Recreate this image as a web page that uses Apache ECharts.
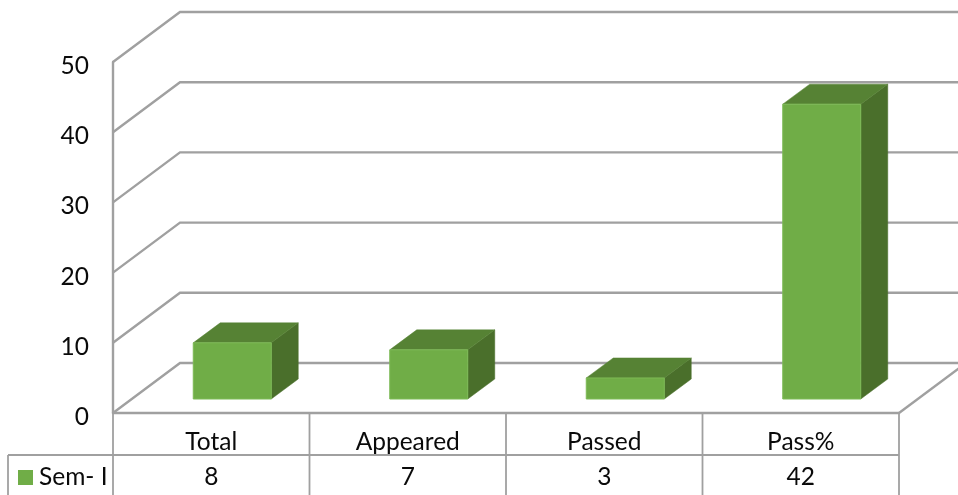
<!DOCTYPE html>
<html>
<head>
<meta charset="utf-8">
<style>html,body{margin:0;padding:0;background:#fff}#c{width:958px;height:495px}</style>
<script src="https://cdn.jsdelivr.net/npm/echarts@6/dist/echarts.min.js"></script>
</head>
<body>
<div id="c"></div>
<script>
const categories = ['Total', 'Appeared', 'Passed', 'Pass%'];
const semI = [8, 7, 3, 42];
const seriesName = 'Sem- I';
const yTicks = [0, 10, 20, 30, 40, 50];

const FONT = 'Lato';
const FS = 24.5;
const TXT = '#0a0a0a';
const GRID_COL = '#a0a0a0';
const WALL_DX = 67, WALL_DY = 50;
const BAR_W = 78, BAR_DX = 27, BAR_DY = 20, BAR_SHIFT_X = -21, BAR_LIFT = 14;
const TABLE_ROW = 42, TABLE_LEFT = 8, TABLE_BOTTOM = 495;

const chart = echarts.init(document.getElementById('c'), null, {renderer: 'canvas'});
chart.setOption({
  animation: false,
  backgroundColor: '#fff',
  textStyle: {fontFamily: FONT},
  grid: {left: 113, right: 59, top: 62, bottom: 82, containLabel: false},
  legend: {
    data: [seriesName], left: 18, top: 465, padding: 0, itemWidth: 15, itemHeight: 15, itemGap: 7,
    icon: 'rect', selectedMode: false,
    textStyle: {fontFamily: FONT, fontSize: FS, color: TXT, padding: [0, 0, 0, 1]}
  },
  xAxis: {
    type: 'category', data: categories, boundaryGap: true,
    axisLine: {show: true, lineStyle: {color: GRID_COL, width: 2.4}},
    axisTick: {show: false}, splitLine: {show: false},
    axisLabel: {fontFamily: FONT, fontSize: FS, color: TXT, margin: 17}
  },
  yAxis: {
    type: 'value', min: 0, max: 50, interval: 10,
    axisLine: {show: true, lineStyle: {color: GRID_COL, width: 2.4}},
    axisTick: {show: false}, splitLine: {show: false},
    axisLabel: {fontFamily: FONT, fontSize: FS, color: TXT, margin: 24, verticalAlign: 'top', lineHeight: 8}
  },
  series: [
    {
      name: 'walls', type: 'custom', z: 1, silent: true, clip: false,
      data: yTicks.map(v => [0, v]),
      encode: {x: 0, y: 1},
      renderItem(params, api) {
        const cs = params.coordSys;
        const y = api.coord([0, api.value(1)])[1];
        const pts = [[cs.x, y], [cs.x + WALL_DX, y - WALL_DY], [cs.x + cs.width + WALL_DX, y - WALL_DY]];
        const children = [{type: 'polyline', shape: {points: pts}, style: {stroke: GRID_COL, lineWidth: 2.4, fill: null}}];
        if (api.value(1) === 0) {
          children.push({type: 'line', shape: {x1: cs.x + cs.width, y1: y, x2: cs.x + cs.width + WALL_DX, y2: y - WALL_DY},
            style: {stroke: GRID_COL, lineWidth: 2.4}});
        }
        return {type: 'group', children};
      }
    },
    {
      name: seriesName, type: 'custom', z: 3, clip: false,
      itemStyle: {color: '#70ad47'},
      data: semI.map((v, i) => [i, v]),
      encode: {x: 0, y: 1},
      renderItem(params, api) {
        const top = api.coord([api.value(0), api.value(1)]);
        const base = api.coord([api.value(0), 0]);
        const size = api.size([1, 0])[0];
        const x0 = base[0] - size / 2 + (size - BAR_W) / 2 - BAR_SHIFT_X;
        const x1 = x0 + BAR_W;
        const yb = base[1] - BAR_LIFT, yt = top[1] - BAR_LIFT;
        return {type: 'group', children: [
          {type: 'polygon', shape: {points: [[x1, yt], [x1 + BAR_DX, yt - BAR_DY], [x1 + BAR_DX, yb - BAR_DY], [x1, yb]]},
            style: {fill: '#4a6f2b', stroke: '#4a6f2b', lineWidth: 0.5}},
          {type: 'polygon', shape: {points: [[x0, yt], [x0 + BAR_DX, yt - BAR_DY], [x1 + BAR_DX, yt - BAR_DY], [x1, yt]]},
            style: {fill: '#568234', stroke: '#568234', lineWidth: 0.5}},
          {type: 'rect', shape: {x: x0, y: yt, width: BAR_W, height: yb - yt},
            style: {fill: '#70ad47', stroke: '#7dba56', lineWidth: 1}}
        ]};
      }
    },
    {
      name: 'table', type: 'custom', z: 2, silent: true, clip: false,
      data: semI.map((v, i) => [i, v]),
      encode: {x: 0},
      renderItem(params, api) {
        const cs = params.coordSys;
        const i = api.value(0);
        const size = api.size([1, 0])[0];
        const cx = api.coord([i, 0])[0];
        const yAxisY = cs.y + cs.height;
        const rowY = yAxisY + TABLE_ROW;
        const stroke = {stroke: GRID_COL, lineWidth: 1.8};
        const children = [
          {type: 'line', shape: {x1: cx + size / 2, y1: yAxisY, x2: cx + size / 2, y2: TABLE_BOTTOM}, style: stroke},
          {type: 'line', shape: {x1: cx - size / 2, y1: rowY, x2: cx + size / 2, y2: rowY}, style: stroke},
          {type: 'text', style: {x: cx, y: rowY + 22, text: String(api.value(1)), align: 'center', verticalAlign: 'middle',
            fontFamily: FONT, fontSize: FS, fill: TXT}}
        ];
        if (i === 0) {
          children.push({type: 'line', shape: {x1: cs.x, y1: yAxisY, x2: cs.x, y2: TABLE_BOTTOM}, style: stroke});
          children.push({type: 'line', shape: {x1: TABLE_LEFT, y1: rowY, x2: cs.x, y2: rowY}, style: stroke});
          children.push({type: 'line', shape: {x1: TABLE_LEFT, y1: rowY, x2: TABLE_LEFT, y2: TABLE_BOTTOM}, style: stroke});
        }
        return {type: 'group', children};
      }
    }
  ]
});
</script>
</body>
</html>
